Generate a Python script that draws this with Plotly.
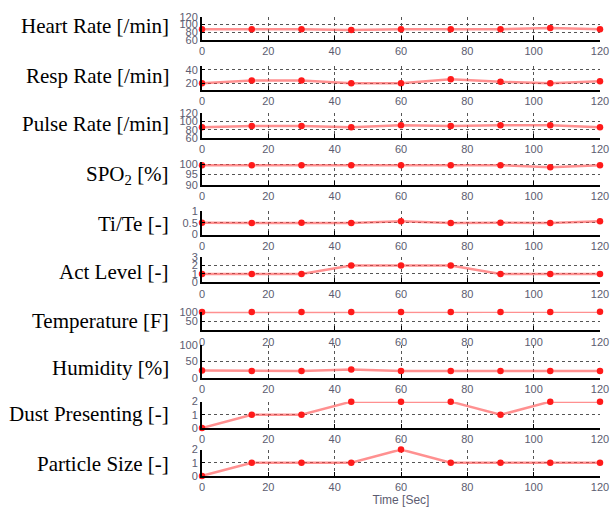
import plotly.graph_objects as go

time_sec = [0, 15, 30, 45, 60, 75, 90, 105, 120]

labels = ["Heart Rate [/min]", "Resp Rate [/min]", "Pulse Rate [/min]", "SPO<sub>2</sub> [%]",
          "Ti/Te [-]", "Act Level [-]", "Temperature [F]", "Humidity [%]",
          "Dust Presenting [-]", "Particle Size [-]"]

heart_rate = [88, 88, 88, 86, 88, 88, 88, 91, 88]
resp_rate = [20, 24, 24, 20, 20, 26, 22, 20, 23]
pulse_rate = [86, 89, 89, 86, 91, 89, 91, 91, 86]
spo2 = [99.6, 99.6, 99.6, 99.6, 99.6, 99.6, 99.6, 98.6, 99.6]
ti_te = [0.5, 0.49, 0.51, 0.49, 0.57, 0.49, 0.51, 0.49, 0.57]
act_level = [1, 1, 1, 2, 2, 2, 1, 1, 1]
temperature = [99, 99, 99, 99, 99, 99, 99, 99, 100]
humidity = [23, 22, 22, 26, 22, 22, 22, 22, 22]
dust = [0, 1, 1, 2, 2, 2, 1, 2, 2]
particle = [0, 1, 1, 1, 2, 1, 1, 1, 1]

series = [heart_rate, resp_rate, pulse_rate, spo2, ti_te, act_level,
          temperature, humidity, dust, particle]

y_ranges = [[60, 120], [10, 46], [60, 120], [90, 101], [0, 1], [0, 3],
            [0, 100], [0, 100], [0, 2], [0, 2]]
y_ticks = [[60, 80, 100, 120], [20, 40], [60, 80, 100, 120], [90, 95, 100],
           [0, 0.5, 1], [0, 1, 2, 3], [50, 100], [0, 50, 100], [0, 1, 2], [0, 1, 2]]
x_ticks = [0, 20, 40, 60, 80, 100, 120]

# panel pixel extents (top, bottom) in a 519 px tall figure
H = 519.0
panels_px = [(11, 35), (61, 86), (110, 135), (160, 183), (210, 234),
             (257, 283), (313, 332), (347, 381), (405, 432), (454, 481)]
label_px = [20, 72, 121, 173, 223, 272, 322, 371, 418, 469]

fig = go.Figure()
tick_font = dict(family="Liberation Sans, Arial", size=11, color="#5c5c70")
grid_col = "#555555"

for i, (vals, (top, bot)) in enumerate(zip(series, panels_px)):
    n = i + 1
    xa = "x" if n == 1 else f"x{n}"
    ya = "y" if n == 1 else f"y{n}"
    fig.add_trace(go.Scatter(
        x=time_sec, y=vals, xaxis=xa, yaxis=ya, mode="lines+markers",
        line=dict(color="rgba(255,70,70,0.6)", width=2.5),
        marker=dict(color="#ff1a1a", size=6.5),
        cliponaxis=False, showlegend=False, hoverinfo="skip"))
    dom = [1 - bot / H, 1 - top / H]
    xkey = "xaxis" if n == 1 else f"xaxis{n}"
    ykey = "yaxis" if n == 1 else f"yaxis{n}"
    fig.layout[xkey] = dict(
        domain=[0, 1], anchor=ya, range=[0, 120], tickvals=x_ticks,
        showline=True, linecolor="black", linewidth=2, mirror=False,
        ticks="inside", ticklen=4, tickcolor="black", tickwidth=1,
        showgrid=True, gridcolor=grid_col, griddash="dot", gridwidth=1,
        tickfont=tick_font, zeroline=False, fixedrange=True,
        title=dict(text="Time [Sec]" if n == 10 else "",
                   font=dict(family="Liberation Sans, Arial", size=12, color="#5c5c70"),
                   standoff=2))
    fig.layout[ykey] = dict(
        domain=dom, anchor=xa, range=y_ranges[i], tickvals=y_ticks[i],
        showline=True, linecolor="black", linewidth=2,
        ticks="inside", ticklen=3, tickcolor="black",
        showgrid=True, gridcolor=grid_col, griddash="dot", gridwidth=1,
        tickfont=tick_font, zeroline=False, fixedrange=True)
    fig.add_annotation(
        x=-31 / 399, xref="paper", y=1 - label_px[i] / H, yref="paper",
        text=labels[i], showarrow=False, xanchor="right", yanchor="middle",
        font=dict(family="Liberation Serif, Times New Roman", size=21, color="black"))

fig.update_layout(
    width=611, height=519, margin=dict(l=202, r=11, t=0, b=0),
    paper_bgcolor="white", plot_bgcolor="white")

fig.write_html("out.html", config={"displayModeBar": False},
               post_script="document.body.style.margin='0';document.body.style.overflow='hidden';")
